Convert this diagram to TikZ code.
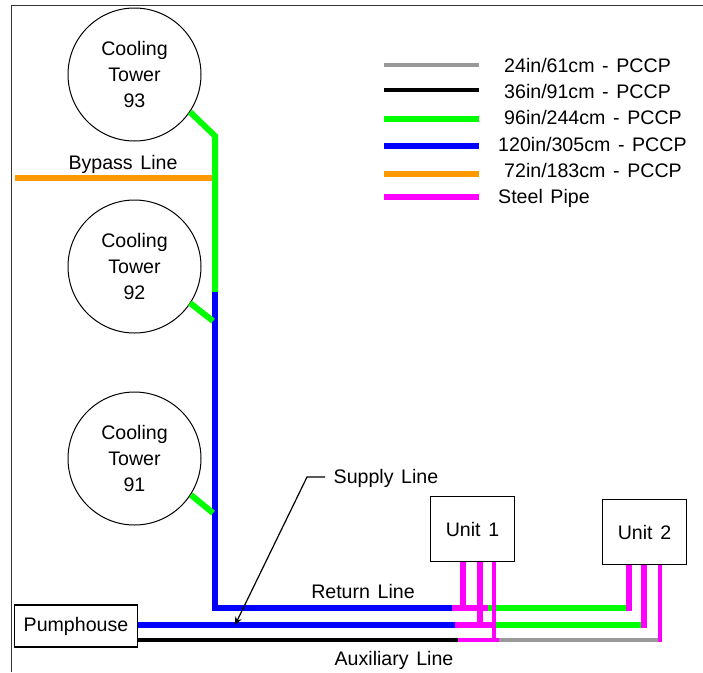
\documentclass[tikz,border=0pt]{standalone}
\usepackage{fontspec}
\setmainfont[WordSpace=1.4]{Liberation Sans}
\usetikzlibrary{arrows.meta,positioning}
\definecolor{pipegreen}{HTML}{00FF00}
\definecolor{pipeblue}{HTML}{0000FF}
\definecolor{pipeorange}{HTML}{FF9900}
\definecolor{pipesteel}{HTML}{FF00FF}
\definecolor{pipegray}{HTML}{999999}
\begin{document}
\begin{tikzpicture}[x=1pt,y=-1pt,
  every node/.style={font=\fontsize{19.6}{26}\selectfont},
  tower/.style={draw, circle, minimum size=133pt, inner sep=0pt, align=center, line width=1pt},
  unit/.style={draw, minimum width=84pt, minimum height=65pt, line width=1.1pt},
  lab/.style={inner sep=0pt},
  legtxt/.style={inner sep=0pt, anchor=west},
  pgreen/.style={draw=pipegreen, line width=6pt},
  pblue/.style={draw=pipeblue, line width=6pt},
  porange/.style={draw=pipeorange, line width=6pt},
  pblack/.style={draw=black, line width=4pt},
  pgray/.style={draw=pipegray, line width=4pt},
  psteel/.style={draw=pipesteel, line width=6pt},
  psteelthin/.style={draw=pipesteel, line width=4pt}
]
\useasboundingbox (0,0) rectangle (703,672);

%% frame
\coordinate (fr_bl) at (11.7,672);
\coordinate (fr_tl) at (11.7,5.7);
\coordinate (fr_tr) at (703,5.7);
\draw[line width=1.3pt, draw=black!80] (fr_bl) -- (fr_tl) -- (fr_tr);

%% towers
\node[tower] (ct93) at (134.5,74.5)  {Cooling\\Tower\\93};
\node[tower] (ct92) at (134.5,266.5) {Cooling\\Tower\\92};
\node[tower] (ct91) at (134.5,458.5) {Cooling\\Tower\\91};

%% boxes
\node[draw, line width=1.1pt, minimum width=123pt, minimum height=42pt] (pump) at (76,626) {Pumphouse};
\node[unit] (unit1) at (472.5,529) {Unit 1};
\node[unit] (unit2) at (644.5,532) {Unit 2};

%% junctions
\coordinate (st_93) at (190,112);
\coordinate (st_92) at (190,303);
\coordinate (st_91) at (191,495);
\coordinate (j_top) at (215,136);
\coordinate (j_chg) at (215,292);
\coordinate (j_92)  at (213,321);
\coordinate (j_91)  at (213,513);
\coordinate (j_ret) at (215,608);
\coordinate (byp_w) at (15,178);
\coordinate (byp_e) at (212,178);
\coordinate (ret_a) at (452,608);
\coordinate (ret_b) at (488,608);
\coordinate (ret_c) at (627,608);
\coordinate (sup_a) at (138,625);
\coordinate (sup_b) at (455,625);
\coordinate (sup_c) at (496,625);
\coordinate (sup_d) at (642,625);
\coordinate (aux_a) at (138,640);
\coordinate (aux_b) at (458,640);
\coordinate (aux_c) at (499,640);
\coordinate (aux_d) at (661,640);

%% pipes
\draw[pgreen] (st_93) -- (j_top) -- (j_chg);
\draw[pblue] (j_chg) -- (j_ret) -- (ret_a);
\draw[pgreen] (st_92) -- (j_92);
\draw[pgreen] (st_91) -- (j_91);
\draw[porange] (byp_w) -- (byp_e);
\draw[pblue] (sup_a) -- (sup_b);
\draw[pblack] (aux_a) -- (aux_b);
\draw[pgreen] (ret_b) -- (ret_c);
\draw[pgreen] (sup_c) -- (sup_d);
\draw[pgray] (aux_c) -- (aux_d);

%% steel pipe
\draw[psteel] (ret_a) -- (ret_b);
\draw[psteel] (sup_b) -- (sup_c);
\draw[psteelthin] (aux_b) -- (aux_c);
\draw[psteel] (463,0 |- unit1.south) -- (463,611);
\draw[psteel] (480,0 |- unit1.south) -- (480,628);
\draw[psteelthin] (494,0 |- unit1.south) -- (494,642);
\draw[psteel] (629,0 |- unit2.south) -- (629,611);
\draw[psteel] (644,0 |- unit2.south) -- (644,628);
\draw[psteelthin] (660,0 |- unit2.south) -- (660,642);

%% line labels
\node[lab] (byp_l) at (123,164.5) {Bypass Line};
\node[lab] (ret_l) at (363,591) {Return Line};
\node[lab] (aux_l) at (394,660) {Auxiliary Line};
\node[lab] (sup_l) at (386,478.5) {Supply Line};
\coordinate (sup_s) at (325,477);
\coordinate (sup_m) at (307,477);
\coordinate (sup_t) at (235,625);
\draw[line width=1.2pt, -{Stealth[length=8pt,width=7pt]}] (sup_s) -- (sup_m) -- (sup_t);

%% legend
\foreach \y/\yt/\sty/\txt/\xx/\nm in {65/65/pgray/24in\slash 61cm - PCCP/504/a,
    90/91/pblack/36in\slash 91cm - PCCP/504/b,
    119/117/pgreen/96in\slash 244cm - PCCP/504/c,
    146/144/pblue/120in\slash 305cm - PCCP/498/d,
    174/170/porange/72in\slash 183cm - PCCP/504/e,
    197/198.5/psteel/Steel Pipe/498/f}{
  \coordinate (lg_a\nm) at (384,\y);
  \coordinate (lg_b\nm) at (478.5,\y);
  \draw[\sty] (lg_a\nm) -- (lg_b\nm);
  \node[legtxt] (lg_t\nm) at (\xx,\yt) {\txt};
}
\end{tikzpicture}
\end{document}
